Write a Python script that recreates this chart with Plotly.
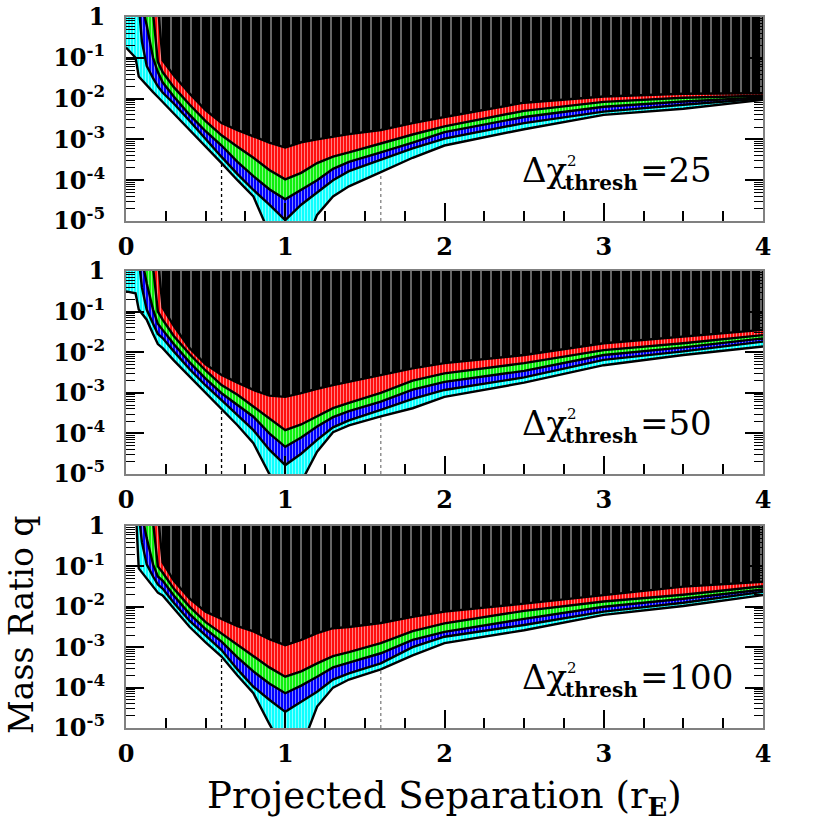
import numpy as np
import plotly.graph_objects as go

# projected separation grid (r_E)
x_grid = [0, 0.06, 0.08, 0.1, 0.13, 0.17, 0.2, 0.23, 0.3, 0.4, 0.5, 0.6, 0.7, 0.8, 0.9,
          1.0, 1.1, 1.2, 1.3, 1.4, 1.6, 1.8, 2.0, 2.5, 3.0, 3.5, 4.0]

# log10 q of the lower edge of each band: black, red, green, blue, cyan
p1_black = [.5, .5, .5, .5, .5, .5, .3, -1.06, -1.43, -1.88, -2.28, -2.6, -2.77, -2.93, -3.08,
            -3.2, -3.07, -3.0, -2.93, -2.87, -2.77, -2.6, -2.45, -2.1, -1.95, -1.88, -1.87]
p1_red = [.5, .5, .5, .5, .4, .1, -1.1, -1.35, -1.72, -2.15, -2.55, -2.9, -3.18, -3.45, -3.75,
          -3.98, -3.82, -3.58, -3.42, -3.32, -3.1, -2.88, -2.68, -2.3, -2.08, -1.98, -1.93]
p1_green = [.4, .4, .4, .3, -0.2, -1.0, -1.35, -1.6, -1.95, -2.4, -2.8, -3.15, -3.55, -3.9, -4.22,
            -4.47, -4.24, -4.0, -3.72, -3.55, -3.32, -3.08, -2.82, -2.45, -2.2, -2.07, -1.97]
p1_blue = [.3, .3, .3, -0.6, -1.2, -1.5, -1.7, -1.85, -2.12, -2.55, -3.0, -3.43, -3.85, -4.24, -4.6,
           -4.98, -4.6, -4.3, -4.0, -3.78, -3.5, -3.22, -2.98, -2.6, -2.32, -2.15, -2.0]
p1_cyan = [-.75, -1.0, -1.46, -1.55, -1.67, -1.84, -1.96, -2.08, -2.36, -2.77, -3.17, -3.58, -4.0, -4.4, -5.3,
           -6.0, -5.8, -4.85, -4.4, -4.15, -3.8, -3.45, -3.15, -2.75, -2.4, -2.25, -2.03]

p2_black = [.6, .6, .6, .6, .6, .6, .3, -0.9, -1.35, -1.9, -2.3, -2.56, -2.75, -2.93, -3.07,
            -3.1, -3.01, -2.9, -2.81, -2.73, -2.57, -2.4, -2.27, -2.07, -1.78, -1.62, -1.45]
p2_red = [.5, .5, .5, .5, .4, .1, -1.0, -1.2, -1.6, -2.05, -2.45, -2.81, -3.05, -3.34, -3.65,
          -3.92, -3.78, -3.59, -3.38, -3.25, -3.0, -2.7, -2.52, -2.27, -1.95, -1.78, -1.58]
p2_green = [.4, .4, .4, .3, -0.3, -0.95, -1.3, -1.45, -1.8, -2.25, -2.65, -3.01, -3.3, -3.59, -4.0,
            -4.33, -4.1, -3.83, -3.6, -3.45, -3.22, -2.92, -2.73, -2.46, -2.07, -1.88, -1.66]
p2_blue = [.3, .3, .3, -0.4, -0.95, -1.3, -1.55, -1.65, -1.98, -2.42, -2.82, -3.18, -3.55, -3.92, -4.4,
           -4.78, -4.5, -4.16, -3.85, -3.68, -3.42, -3.15, -2.93, -2.62, -2.19, -1.98, -1.74]
p2_cyan = [-.5, -.55, -.95, -1.05, -1.2, -1.55, -1.8, -1.9, -2.2, -2.6, -3.0, -3.38, -3.8, -4.24, -5.0,
           -5.6, -5.2, -4.45, -3.97, -3.8, -3.58, -3.38, -3.1, -2.75, -2.32, -2.07, -1.86]

p3_black = [.6, .6, .6, .6, .6, .6, .3, -0.9, -1.35, -1.8, -2.12, -2.3, -2.48, -2.61, -2.8,
            -2.95, -2.82, -2.65, -2.53, -2.5, -2.4, -2.25, -2.12, -1.92, -1.71, -1.5, -1.38]
p3_red = [.5, .5, .5, .5, .4, .1, -1.0, -1.15, -1.55, -2.0, -2.38, -2.66, -2.95, -3.23, -3.5,
          -3.73, -3.6, -3.4, -3.22, -3.12, -2.9, -2.6, -2.41, -2.1, -1.87, -1.7, -1.49]
p3_green = [.4, .4, .4, .3, -0.3, -0.95, -1.25, -1.35, -1.72, -2.18, -2.55, -2.86, -3.25, -3.6, -3.9,
            -4.14, -3.95, -3.73, -3.5, -3.38, -3.15, -2.82, -2.62, -2.3, -2.0, -1.8, -1.57]
p3_blue = [.3, .3, .3, -0.4, -0.95, -1.25, -1.45, -1.55, -1.9, -2.35, -2.72, -3.07, -3.55, -3.98, -4.3,
           -4.6, -4.35, -4.1, -3.8, -3.65, -3.4, -3.0, -2.74, -2.45, -2.12, -1.9, -1.63]
p3_cyan = [.5, .5, -1.05, -1.15, -1.3, -1.5, -1.65, -1.72, -2.05, -2.5, -2.88, -3.23, -3.7, -4.14, -4.9,
           -5.6, -5.5, -4.47, -4.0, -3.8, -3.55, -3.2, -2.9, -2.58, -2.2, -1.98, -1.71]

thresholds = ["25", "50", "100"]
sep_marks = [0.6, 1.6]
x_ticks = [0, 1, 2, 3, 4]
y_ticks = [1e-5, 1e-4, 1e-3, 1e-2, 1e-1, 1]
y_ticktext = ["10<sup>-5</sup>", "10<sup>-4</sup>", "10<sup>-3</sup>",
              "10<sup>-2</sup>", "10<sup>-1</sup>", "1"]

panels = [
    [p1_black, p1_red, p1_green, p1_blue, p1_cyan],
    [p2_black, p2_red, p2_green, p2_blue, p2_cyan],
    [p3_black, p3_red, p3_green, p3_blue, p3_cyan],
]

# fill colour, stripe colour, stripe spacing, stripe fraction
band_style = [
    ("black", "white", 10, 0.16),
    ("#ff0000", "white", 3, 0.4),
    ("#00ee00", "white", 3, 0.4),
    ("#0000ff", "white", 3, 0.35),
    ("#00ffff", "white", 3, 0.4),
]

W, H = 830, 829
LEFT, RIGHT = 126, 763
panel_px = [(17, 221), (271, 474), (526, 728)]
SERIF = "DejaVu Serif"

minor_y = [m * 10.0 ** e for e in range(-5, 0) for m in range(2, 10)]

fig = go.Figure()
for i, curves in enumerate(panels):
    xa = "x" if i == 0 else "x%d" % (i + 1)
    ya = "y" if i == 0 else "y%d" % (i + 1)

    for xm, col in zip(sep_marks, ["black", "#808080"]):
        fig.add_trace(go.Scatter(x=[xm, xm], y=[1e-5, 1], mode="lines",
                                 line=dict(color=col, width=1.3, dash="dot"),
                                 xaxis=xa, yaxis=ya, hoverinfo="skip"))
    fig.add_trace(go.Scatter(x=x_grid, y=[1.0] * len(x_grid), mode="lines",
                             line=dict(width=0), xaxis=xa, yaxis=ya, hoverinfo="skip"))
    for lg, (bg, fg, sz, sol) in zip(curves, band_style):
        fig.add_trace(go.Scatter(x=x_grid, y=10 ** np.array(lg), mode="lines",
                                 line=dict(width=0), fill="tonexty", fillcolor=bg,
                                 fillpattern=dict(shape="|", bgcolor=bg, fgcolor=fg,
                                                  size=sz, solidity=sol),
                                 xaxis=xa, yaxis=ya, hoverinfo="skip"))
    for lg in curves:
        fig.add_trace(go.Scatter(x=x_grid, y=10 ** np.array(lg), mode="lines",
                                 line=dict(color="black", width=2.4),
                                 xaxis=xa, yaxis=ya, hoverinfo="skip"))

    top, bot = panel_px[i]
    n = "" if i == 0 else str(i + 1)
    tickfont = dict(family=SERIF, size=24, color="black", weight="bold")
    fig.layout["xaxis" + n] = dict(
        domain=[LEFT / W, RIGHT / W], range=[0, 4], anchor=ya,
        tickmode="array", tickvals=x_ticks, ticks="inside", ticklen=18,
        tickwidth=1.5, tickcolor="black",
        minor=dict(dtick=0.25, tick0=0, ticks="inside", ticklen=10,
                   tickwidth=1.5, tickcolor="black"),
        showline=True, linecolor="#808080", linewidth=2, mirror=True,
        showgrid=False, zeroline=False, tickfont=tickfont, ticklabelstandoff=3,
        automargin=False)
    fig.layout["yaxis" + n] = dict(
        type="log", domain=[1 - bot / H, 1 - top / H], range=[-5, 0], anchor=xa,
        tickmode="array", tickvals=y_ticks, ticktext=y_ticktext,
        ticks="inside", ticklen=18, tickwidth=1.5, tickcolor="black",
        minor=dict(tickmode="array", tickvals=minor_y, ticks="inside", ticklen=9,
                   tickwidth=1.2, tickcolor="black"),
        showline=True, linecolor="#808080", linewidth=2, mirror="ticks",
        showgrid=False, zeroline=False, tickfont=tickfont, ticklabelstandoff=14,
        automargin=False)

    # threshold label
    def ann(text, px, off, size, bold=False):
        fig.add_annotation(text=text, x=px / W, y=1 - (bot - off) / H,
                           xref="paper", yref="paper", xanchor="left", yanchor="middle",
                           showarrow=False,
                           font=dict(family=SERIF, size=size, color="black",
                                     weight="bold" if bold else "normal"))
    ann("Δχ", 520, 51, 34)
    ann("2", 565, 60, 15)
    ann("thresh", 563, 38, 20, bold=True)
    ann("=" + thresholds[i], 638, 51, 34)

fig.add_annotation(text="Projected Separation (r<sub><b>E</b></sub>)", x=444 / W, y=1 - 798 / H,
                   xref="paper", yref="paper", xanchor="center", yanchor="middle",
                   showarrow=False, font=dict(family=SERIF, size=37, color="black"))
fig.add_annotation(text="Mass Ratio q", x=21 / W, y=1 - 625 / H, textangle=-90,
                   xref="paper", yref="paper", xanchor="center", yanchor="middle",
                   showarrow=False, font=dict(family=SERIF, size=33, color="black"))

fig.update_layout(width=W, height=H, margin=dict(l=0, r=0, t=0, b=0, autoexpand=False),
                  paper_bgcolor="white", plot_bgcolor="white", showlegend=False)
fig.write_html("out.html", config={"displayModeBar": False},
               post_script="document.body.style.margin='0px';")
